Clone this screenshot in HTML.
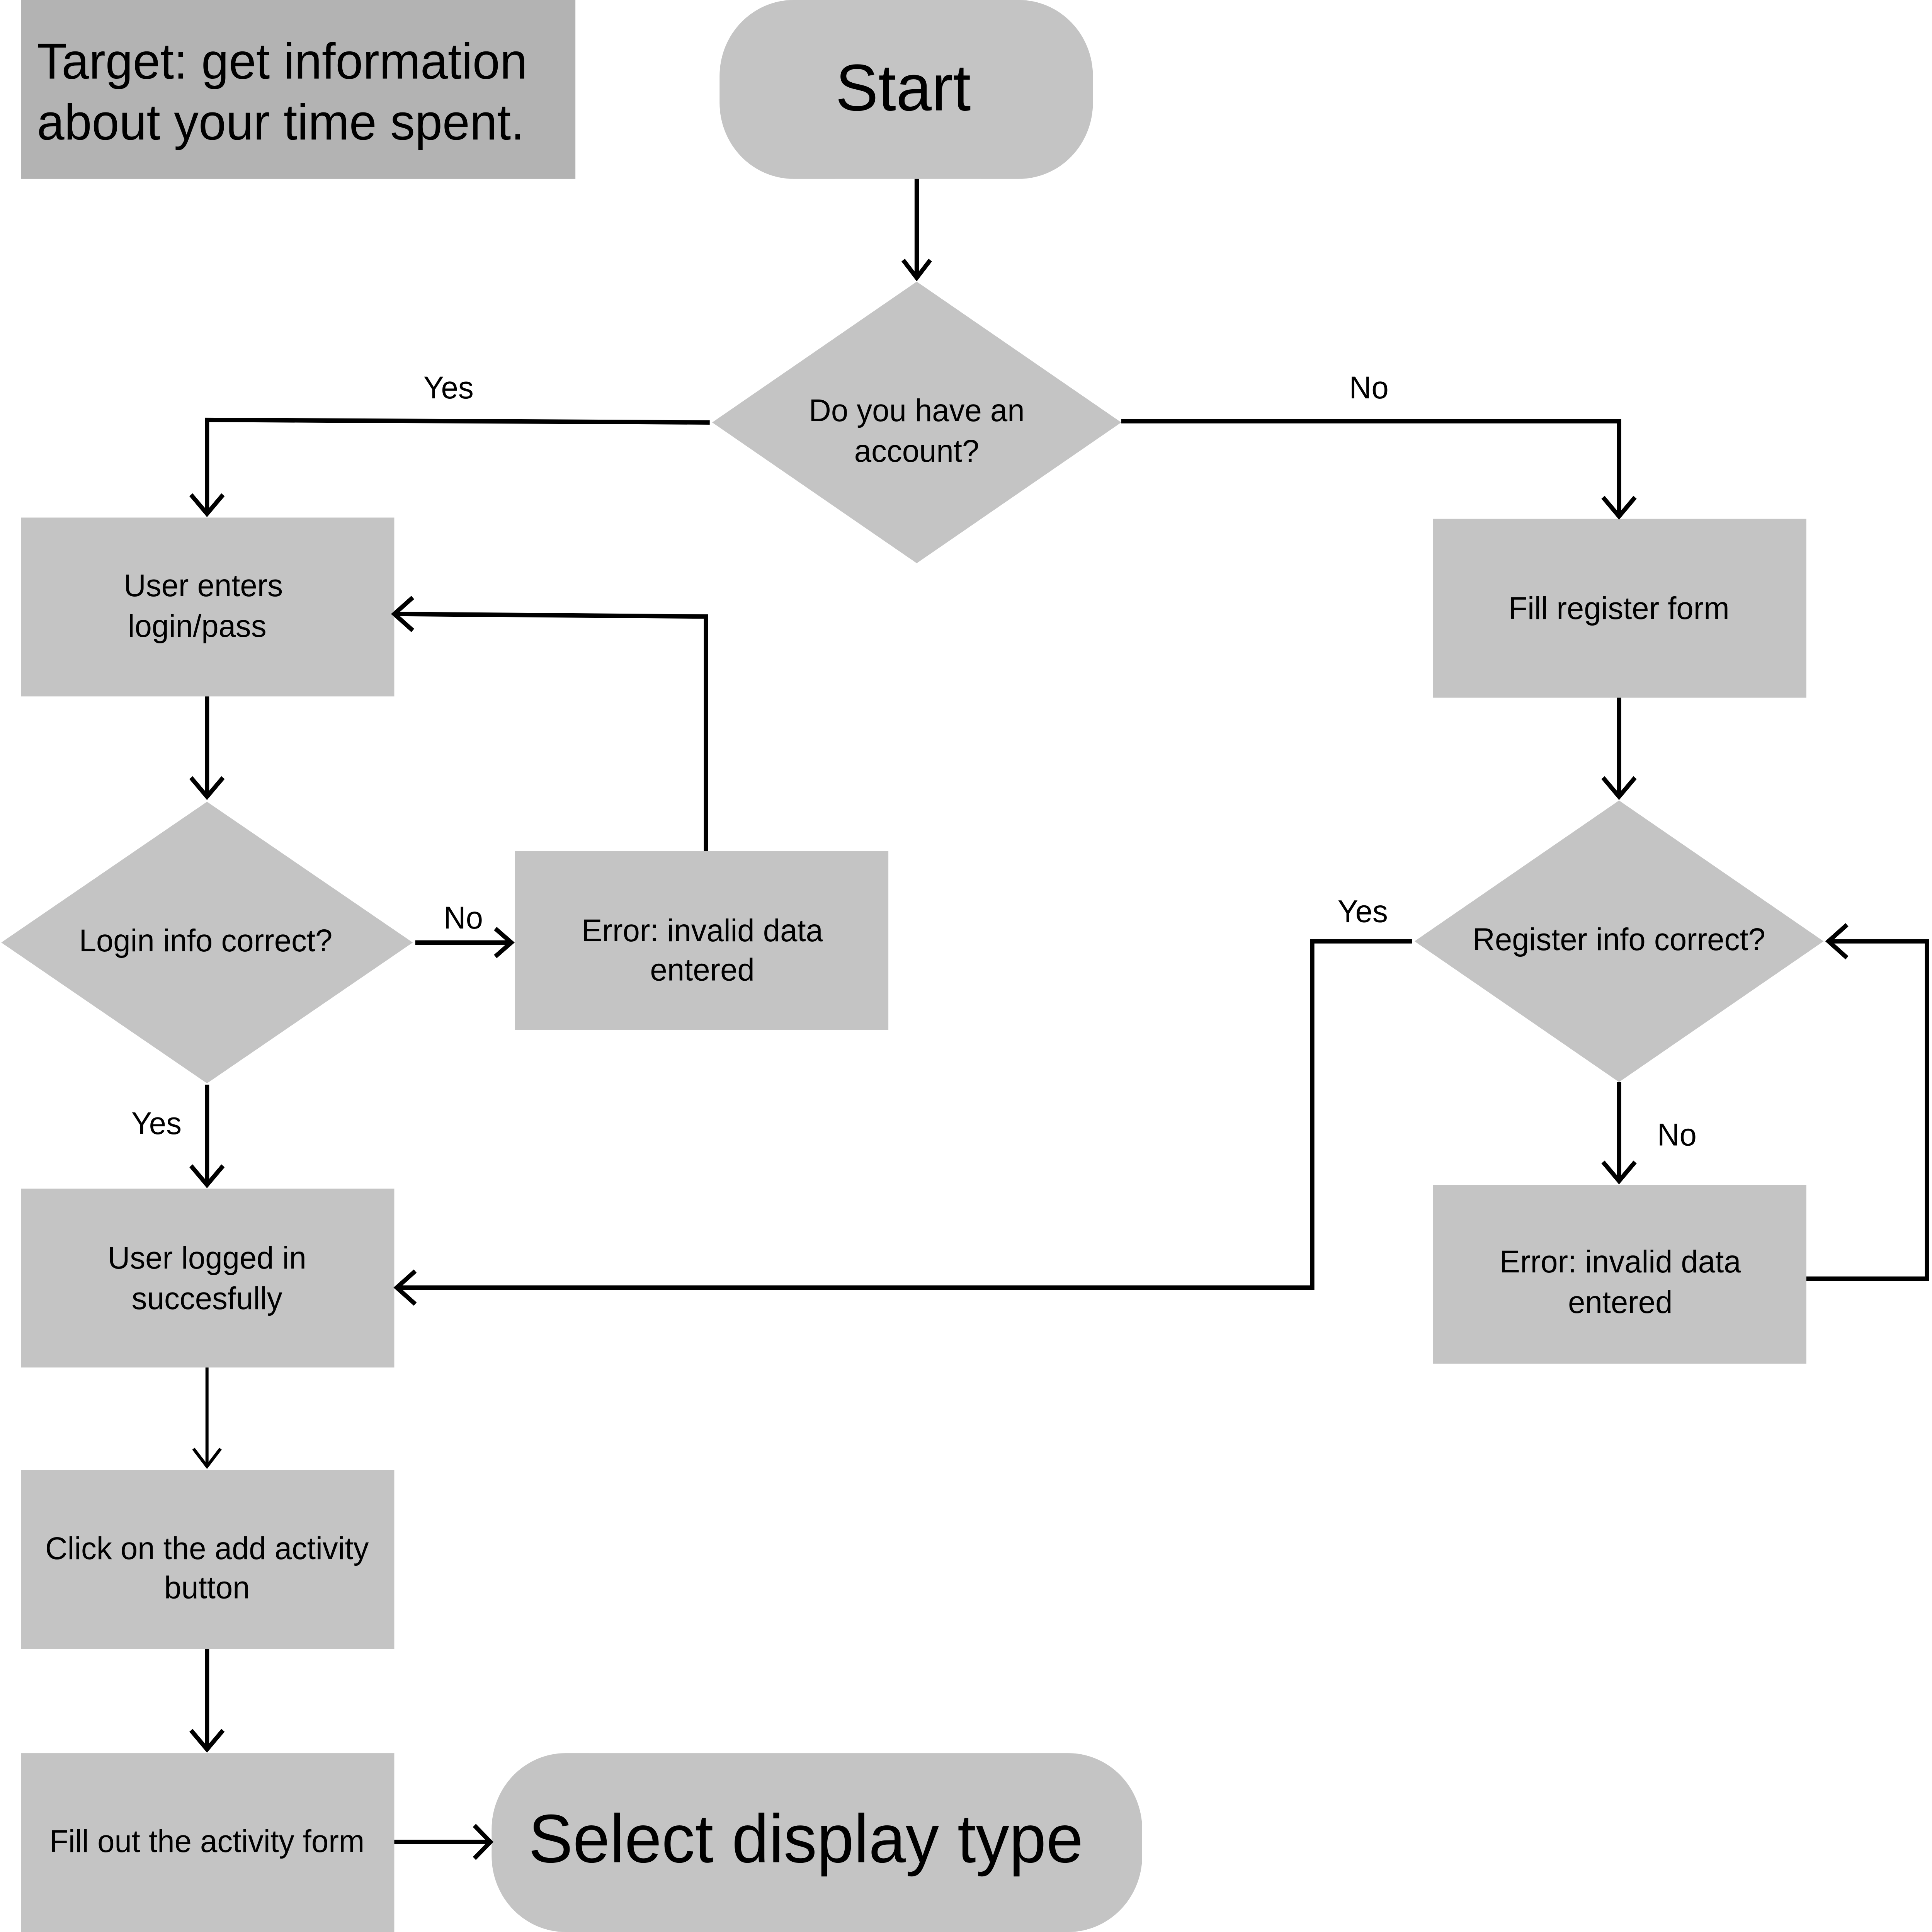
<!DOCTYPE html>
<html><head><style>html,body{margin:0;padding:0;background:#fff;overflow:hidden;width:100%;height:100%}svg{display:block;position:absolute;left:0;top:0;width:100vw;height:100vh}</style></head>
<body>
<svg viewBox="0 0 1568 1523" preserveAspectRatio="none" xmlns="http://www.w3.org/2000/svg" font-family="Liberation Sans, sans-serif">
<rect width="1568" height="1523" fill="#fff"/>
<g fill="#c4c4c4">
<rect x="17" y="0" width="450" height="141" fill="#b3b3b3"/>
<rect x="584" y="0" width="303" height="141" rx="60"/>
<polygon points="744,222 910,333 744,444 578,333"/>
<rect x="17" y="408" width="303" height="141"/>
<rect x="1163" y="409" width="303" height="141"/>
<polygon points="168,632 335,743 168,854 1,743"/>
<rect x="418" y="671" width="303" height="141"/>
<polygon points="1314,631 1480,742 1314,853 1148,742"/>
<rect x="17" y="937" width="303" height="141"/>
<rect x="1163" y="934" width="303" height="141"/>
<rect x="17" y="1159" width="303" height="141"/>
<rect x="17" y="1382" width="303" height="141"/>
<rect x="399" y="1382" width="528" height="141" rx="60"/>
</g>
<g fill="none" stroke="#000" stroke-width="3.5">
<path d="M744 141V219M733 205l11 14 11-14"/>
<path d="M576 333L168 331V405M155 390l13 15 13-15"/>
<path d="M910 332H1314V407M1301 392l13 15 13-15"/>
<path d="M168 549V628M155 613l13 15 13-15"/>
<path d="M1314 550V628M1301 613l13 15 13-15"/>
<path d="M573 671V486L320 484M335 471l-15 13 15 13"/>
<path d="M337 743H415M402 732l13 11-13 11"/>
<path d="M168 855V934M155 919l13 15 13-15"/>
<path d="M1314 853V931M1301 916l13 15 13-15"/>
<path d="M1146 742H1065V1015H322M337 1002l-15 13 15 13"/>
<path d="M1466 1008H1564V742H1484M1499 729l-15 13 15 13"/>
<path d="M168 1078V1156M157 1142l11 14 11-14" stroke-width="2.5"/>
<path d="M168 1300V1379M155 1364l13 15 13-15"/>
<path d="M320 1452H398M385 1439l13 13-13 13"/>
</g>
<g fill="#000" text-anchor="middle" font-size="25">
<text x="30" y="62" font-size="40" text-anchor="start">Target: get information</text>
<text x="30" y="110" font-size="40" text-anchor="start">about your time spent.</text>
<text x="733" y="87" font-size="52">Start</text>
<text x="744" y="332">Do you have an</text>
<text x="744" y="364">account?</text>
<text x="364" y="314">Yes</text>
<text x="1111" y="314">No</text>
<text x="165" y="470">User enters</text>
<text x="160" y="502">login/pass</text>
<text x="1314" y="488">Fill register form</text>
<text x="167" y="750">Login info correct?</text>
<text x="376" y="732">No</text>
<text x="570" y="742">Error: invalid data</text>
<text x="570" y="773">entered</text>
<text x="1314" y="749">Register info correct?</text>
<text x="1106" y="727">Yes</text>
<text x="1361" y="903">No</text>
<text x="127" y="894">Yes</text>
<text x="168" y="1000">User logged in</text>
<text x="168" y="1032">succesfully</text>
<text x="1315" y="1003">Error: invalid data</text>
<text x="1315" y="1035">entered</text>
<text x="168" y="1229">Click on the add activity</text>
<text x="168" y="1260">button</text>
<text x="168" y="1460">Fill out the activity form</text>
<text x="654" y="1468" font-size="54">Select display type</text>
</g>
</svg>
</body></html>
